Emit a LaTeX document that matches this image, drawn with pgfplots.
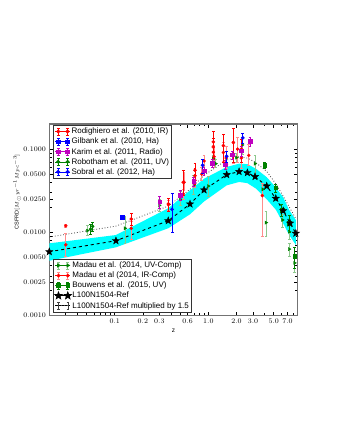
\documentclass[border=0pt]{standalone}
\usepackage{fontspec}
\setmainfont{Liberation Sans}
\usepackage{pgfplots}
\pgfplotsset{compat=1.18}

\definecolor{mplgreen}{rgb}{0,0.5,0}
\definecolor{mplred}{rgb}{1,0,0}
\definecolor{mplblue}{rgb}{0,0,1}
\definecolor{mplmag}{rgb}{0.75,0,0.75}
\definecolor{mplcyan}{rgb}{0,1,1}
\definecolor{lightgreen}{rgb}{0.55,0.78,0.55}
\definecolor{lightred}{rgb}{1,0.55,0.55}

% filled five-pointed star
\pgfdeclareplotmark{fstar}{%
  \pgfpathmoveto{\pgfpointpolar{90}{\pgfplotmarksize}}%
  \pgfpathlineto{\pgfpointpolar{126}{0.42\pgfplotmarksize}}%
  \pgfpathlineto{\pgfpointpolar{162}{\pgfplotmarksize}}%
  \pgfpathlineto{\pgfpointpolar{198}{0.42\pgfplotmarksize}}%
  \pgfpathlineto{\pgfpointpolar{234}{\pgfplotmarksize}}%
  \pgfpathlineto{\pgfpointpolar{270}{0.42\pgfplotmarksize}}%
  \pgfpathlineto{\pgfpointpolar{306}{\pgfplotmarksize}}%
  \pgfpathlineto{\pgfpointpolar{342}{0.42\pgfplotmarksize}}%
  \pgfpathlineto{\pgfpointpolar{18}{\pgfplotmarksize}}%
  \pgfpathlineto{\pgfpointpolar{54}{0.42\pgfplotmarksize}}%
  \pgfpathclose
  \pgfusepathqfillstroke
}

% legend picture: two markers with error bars (#1 bar colour, #2 marker options)
\pgfplotsset{
  eb/.style={error bars/y dir=both, error bars/y explicit,
    error bars/error bar style={line width=0.8pt, #1},
    error bars/error mark options={rotate=90, mark size=1.4pt, line width=0.6pt, #1}},
  errleg/.style 2 args={legend image code/.code={
      \path (-1pt,0pt) -- (14pt,0pt);
      \draw[#1, line width=0.8pt] (2pt,-3.5pt) -- (2pt,3.5pt) (11.3pt,-3.5pt) -- (11.3pt,3.5pt);
      \draw[#1, line width=0.6pt] (0.6pt,-3.5pt) -- (3.4pt,-3.5pt) (0.6pt,3.5pt) -- (3.4pt,3.5pt)
            (9.9pt,-3.5pt) -- (12.7pt,-3.5pt) (9.9pt,3.5pt) -- (12.7pt,3.5pt);
      \draw[only marks, #2] plot coordinates {(2pt,0pt) (11.3pt,0pt)};
  }},
}

\begin{document}
\begin{tikzpicture}
\path[use as bounding box] (0pt,0pt) rectangle (340pt,440pt);

% main axis: band, simulation and Madau/Bouwens compilations (lower legend)
\begin{axis}[
  at={(49.3pt,124.3pt)}, anchor=south west,
  scale only axis, width=248.4pt, height=191.7pt,
  xmode=log, ymode=log,
  xmin=0.02, xmax=9, ymin=0.001, ymax=0.2,
  axis line style={black!55, line width=1.1pt},
  tick align=inside, tick style={black, line width=0.6pt},
  major tick length=4pt, minor tick length=2.5pt,
  xtick={0.1,0.2,0.3,0.6,1,2,3,5,7},
  xticklabels={$0.1$,$0.2$,$0.3$,$0.6$,$1.0$,$2.0$,$3.0$,$5.0$,$7.0$},
  minor xtick={0.03,0.04,0.05,0.06,0.07,0.08,0.09,0.4,0.5,0.7,0.8,0.9,4,6,8},
  ytick={0.001,0.0025,0.005,0.01,0.025,0.05,0.1},
  yticklabels={$0.0010$,$0.0025$,$0.0050$,$0.0100$,$0.0250$,$0.0500$,$0.1000$},
  minor ytick={0.002,0.003,0.004,0.006,0.007,0.008,0.009,0.02,0.03,0.04,0.06,0.07,0.08,0.09,0.2},
  tick label style={font=\fontsize{7}{8}\selectfont},
  xlabel={z}, xlabel style={font=\fontsize{6.5}{7}\selectfont, yshift=2pt},
  ylabel={CSFRD$[M_{\odot}yr^{-1}Mpc^{-3}]$},
  ylabel style={font=\fontsize{5.5}{6.5}\selectfont, at={(axis description cs:-0.129,0.647)}, anchor=center},
  legend cell align=left,
  legend style={font=\fontsize{8}{9}\selectfont, draw=black!80, line width=0.7pt,
    inner sep=1.5pt, row sep=0.6pt, at={(0.015,0.017)}, anchor=south west,
    nodes={inner sep=1pt, text height=6pt, text depth=1.5pt, line width=0.4pt}},
]
% simulation scatter band (upper edge, then lower edge back)
\addplot[fill=mplcyan, draw=none, forget plot] coordinates {
  (0.02,0.00739) (0.103,0.0093) (0.373,0.0195) (0.637,0.032) (0.9,0.0441) (1.57,0.061)
  (2.13,0.0668) (2.61,0.066) (3.23,0.058) (4.2,0.046) (5.28,0.0345) (6.3,0.0264) (7.3,0.0186) (8.6,0.0141)
  (8.6,0.00706) (7.3,0.0093) (6.3,0.0128) (5.28,0.0186) (4.2,0.025) (3.23,0.0335) (2.61,0.039)
  (2.13,0.0403) (1.57,0.0367) (0.9,0.0235) (0.637,0.0165) (0.373,0.0112) (0.103,0.00662) (0.02,0.00457)
  (0.02,0.00739)
};

% Ref x 1.5
\addplot[black!75, dotted, line width=0.8pt, forget plot] coordinates {
  (0.02,0.00879) (0.103,0.0119) (0.373,0.0207) (0.637,0.0329) (0.9,0.0485) (1.57,0.074)
  (2.13,0.081) (2.61,0.078) (3.15,0.070) (4.2,0.054) (5.25,0.0384) (6.3,0.0273) (7.46,0.0194) (8.6,0.0146)};
% Ref line
\addplot[black, dashed, line width=0.9pt, forget plot] coordinates {
  (0.02,0.00586) (0.103,0.00794) (0.373,0.0138) (0.637,0.0219) (0.9,0.0323) (1.57,0.0493)
  (2.13,0.0536) (2.61,0.052) (3.15,0.0467) (4.2,0.036) (5.25,0.0256) (6.3,0.0182) (7.46,0.0129) (8.6,0.00975)};

% Madau UV
\addplot[only marks, mark=triangle*, mark options={rotate=-90}, mark size=1.8pt, mplgreen, eb=lightgreen,
  errleg={lightgreen}{mplgreen, mark=triangle*, mark options={rotate=-90}, mark size=1.8pt}] coordinates {
  (0.051,0.0105) += (0,0.0015) -= (0,0.0012)
  (0.129,0.0112) += (0,0.0045) -= (0,0.0038)
  (0.3,0.0211) += (0,0.004) -= (0,0.003)
  (0.5,0.025) += (0,0.006) -= (0,0.004)
  (0.7,0.037) += (0,0.012) -= (0,0.008)
  (1.0,0.036) += (0,0.011) -= (0,0.009)
  (1.13,0.077) += (0,0.008) -= (0,0.007)
  (1.2,0.0668) += (0,0.008) -= (0,0.007)
  (1.55,0.066) += (0,0.009) -= (0,0.008)
  (2.0,0.079) += (0,0.01) -= (0,0.01)
  (2.3,0.112) += (0,0.026) -= (0,0.025)
  (3.15,0.0668) += (0,0.018) -= (0,0.015)
  (3.82,0.0329) += (0,0.004) -= (0,0.004)
  (4.13,0.0131) += (0,0.0046) -= (0,0.0042)
  (6.2,0.0141) += (0,0.0025) -= (0,0.0025)
  (7.3,0.0102) += (0,0.002) -= (0,0.002)
  (7.3,0.0063) += (0,0.0012) -= (0,0.0012)
  (8.35,0.0043) += (0,0.001) -= (0,0.001)
};
\addlegendentry{Madau et al. (2014, UV-Comp)}
% Madau IR
\addplot[only marks, mark=*, mark size=1.5pt, mplred, eb=lightred,
  errleg={lightred}{mplred, mark=*, mark size=1.5pt}] coordinates {
  (0.03,0.0120) += (0,0.0006) -= (0,0.0006)
  (0.03,0.0071) += (0,0.0027) -= (0,0.0020)
  (0.15,0.0112) += (0,0.0025) -= (0,0.0030)
  (0.375,0.0215) += (0,0.003) -= (0,0.003)
  (0.54,0.029) += (0,0.004) -= (0,0.004)
  (0.55,0.040) += (0,0.012) -= (0,0.008)
  (0.72,0.0422) += (0,0.007) -= (0,0.007)
  (0.85,0.050) += (0,0.010) -= (0,0.008)
  (0.9,0.072) += (0,0.012) -= (0,0.010)
  (1.13,0.092) += (0,0.02) -= (0,0.015)
  (1.15,0.081) += (0,0.03) -= (0,0.02)
  (1.45,0.091) += (0,0.03) -= (0,0.02)
  (1.55,0.078) += (0,0.03) -= (0,0.02)
  (1.85,0.087) += (0,0.03) -= (0,0.02)
  (2.05,0.10) += (0,0.04) -= (0,0.03)
  (2.25,0.078) += (0,0.03) -= (0,0.02)
  (2.7,0.084) += (0,0.03) -= (0,0.02)
  (3.77,0.0276) += (0,0.0112) -= (0,0.0187)
};
\addlegendentry{Madau et al (2014, IR-Comp)}
% Bouwens 2015
\addplot[only marks, mark=square*, mark size=1.9pt, mplgreen, eb=mplgreen,
  errleg={mplgreen}{mplgreen, mark=square*, mark size=1.9pt}] coordinates {
  (4.0,0.064) += (0,0.006) -= (0,0.006)
  (5.25,0.0343) += (0,0.004) -= (0,0.004)
  (6.1,0.0186) += (0,0.003) -= (0,0.003)
  (7.3,0.0129) += (0,0.003) -= (0,0.003)
  (8.35,0.0052) += (0,0.0015) -= (0,0.0015)
};
\addlegendentry{Bouwens et al. (2015, UV)}
% L100N1504-Ref
\addplot[only marks, mark=fstar, mark size=3.8pt, black, mark options={fill=black},
  legend image code/.code={\path (-1pt,0pt) -- (14pt,0pt);
    \draw[only marks, black, fill=black, mark=fstar, mark size=3.8pt] plot coordinates {(2pt,0pt) (11.3pt,0pt)};}] coordinates {
  (0.02,0.00586) (0.103,0.00794) (0.373,0.0138) (0.637,0.0219) (0.9,0.0323) (1.57,0.0493)
  (2.13,0.0536) (2.61,0.052) (3.15,0.0467) (4.2,0.036) (5.25,0.0256) (6.3,0.0182) (7.46,0.0129) (8.6,0.00975)};
\addlegendentry{L100N1504-Ref}
\addlegendimage{legend image code/.code={\path (-1pt,0pt) -- (14pt,0pt);
    \draw[black!75, dotted, line width=0.8pt] (2pt,0pt) -- (11.3pt,0pt);
    \draw[black!75, line width=0.5pt] (2pt,-3.5pt) -- (2pt,3.5pt) (11.3pt,-3.5pt) -- (11.3pt,3.5pt)
      (0.8pt,-3.5pt) -- (3.2pt,-3.5pt) (0.8pt,3.5pt) -- (3.2pt,3.5pt)
      (10.1pt,-3.5pt) -- (12.5pt,-3.5pt) (10.1pt,3.5pt) -- (12.5pt,3.5pt);}}
\addlegendentry{L100N1504-Ref multiplied by 1.5}
\end{axis}

% overlay axis: individual surveys (upper legend)
\begin{axis}[
  at={(49.3pt,124.3pt)}, anchor=south west,
  scale only axis, width=248.4pt, height=191.7pt,
  xmode=log, ymode=log,
  xmin=0.02, xmax=9, ymin=0.001, ymax=0.2,
  hide axis,
  legend cell align=left,
  legend style={font=\fontsize{8}{9}\selectfont, draw=black!80, line width=0.7pt,
    inner sep=1.5pt, row sep=0.6pt, at={(0.015,0.995)}, anchor=north west,
    nodes={inner sep=1pt, text height=6pt, text depth=1.5pt, line width=0.4pt}},
]
\addplot[only marks, mark=*, mark size=1.6pt, mplred, eb=mplred,
  errleg={mplred}{mplred, mark=*, mark size=1.6pt}] coordinates {
  (0.15,0.0145) += (0,0.0025) -= (0,0.0025)
  (0.375,0.022) += (0,0.004) -= (0,0.004)
  (0.54,0.040) += (0,0.015) -= (0,0.012)
  (0.72,0.0556) += (0,0.012) -= (0,0.012)
  (0.72,0.048) += (0,0.01) -= (0,0.01)
  (1.13,0.122) += (0,0.04) -= (0,0.03)
  (1.13,0.106) += (0,0.03) -= (0,0.03)
  (1.45,0.11) += (0,0.04) -= (0,0.04)
  (1.85,0.12) += (0,0.06) -= (0,0.05)
  (2.25,0.10) += (0,0.03) -= (0,0.03)
};
\addlegendentry{Rodighiero et al. (2010, IR)}
\addplot[only marks, mark=square*, mark size=1.7pt, mplblue, eb=mplblue,
  errleg={mplblue}{mplblue, mark=square*, mark size=1.7pt}] coordinates {
  (0.12,0.0152) += (0,0.0008) -= (0,0.0008)
};
\addlegendentry{Gilbank et al. (2010, Ha)}
\addplot[only marks, mark=square*, mark size=1.7pt, mplmag, eb=mplmag,
  errleg={mplmag}{mplmag, mark=square*, mark size=1.7pt}] coordinates {
  (0.3,0.0232) += (0,0.004) -= (0,0.004)
  (0.5,0.028) += (0,0.004) -= (0,0.004)
  (0.7,0.041) += (0,0.005) -= (0,0.005)
  (0.9,0.055) += (0,0.006) -= (0,0.006)
  (1.1,0.068) += (0,0.008) -= (0,0.008)
  (1.52,0.065) += (0,0.008) -= (0,0.008)
  (1.8,0.085) += (0,0.01) -= (0,0.01)
  (2.25,0.095) += (0,0.012) -= (0,0.012)
  (2.79,0.124) += (0,0.015) -= (0,0.015)
};
\addlegendentry{Karim et al. (2011, Radio)}
\addplot[only marks, mark=*, mark size=1.6pt, mplgreen, eb=mplgreen,
  errleg={mplgreen}{mplgreen, mark=*, mark size=1.6pt}] coordinates {
  (0.055,0.0109) += (0,0.0015) -= (0,0.0015)
  (0.058,0.0118) += (0,0.0015) -= (0,0.0015)
};
\addlegendentry{Robotham et al. (2011, UV)}
\addplot[only marks, mark=*, mark size=1.7pt, mplblue, eb=mplblue,
  errleg={mplblue}{mplblue, mark=*, mark size=1.7pt}] coordinates {
  (0.41,0.0189) += (0,0.0102) -= (0,0.009)
  (0.87,0.0639) += (0,0.012) -= (0,0.012)
  (1.57,0.082) += (0,0.012) -= (0,0.012)
  (2.33,0.136) += (0,0.02) -= (0,0.02)
};
\addlegendentry{Sobral et al. (2012, Ha)}
\end{axis}
\end{tikzpicture}
\end{document}
